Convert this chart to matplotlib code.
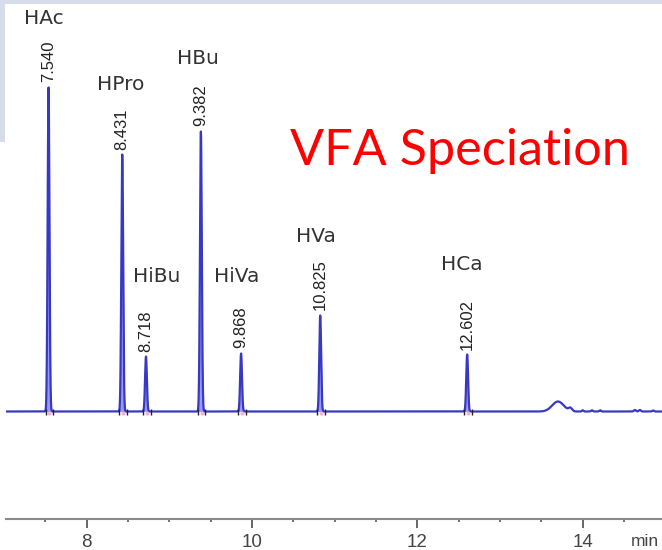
import numpy as np
import matplotlib
matplotlib.use("Agg")
import matplotlib.pyplot as plt
from matplotlib.patches import Rectangle
from matplotlib.ticker import MultipleLocator, FixedLocator
import matplotlib.transforms as mtransforms

# ---------------- data ----------------
compounds = ["HAc", "HPro", "HiBu", "HBu", "HiVa", "HVa", "HCa"]
retention_times = [7.540, 8.431, 8.718, 9.382, 9.868, 10.825, 12.602]
rt_labels = ["7.540", "8.431", "8.718", "9.382", "9.868", "10.825", "12.602"]
peak_heights = [324, 257, 55, 280, 58, 96, 57]          # detector response (a.u.)
name_label_x = [7.485, 8.416, 8.851, 9.347, 9.819, 10.774, 12.54]
name_label_y = [384, 318, 126, 343, 126, 166, 138]

# unidentified late features
extra_times = [13.70, 13.85, 14.00, 14.11, 14.21, 14.63, 14.69, 14.85]
extra_heights = [10.0, 3.0, 1.2, 1.2, 1.2, 1.5, 1.5, 1.0]
extra_widths = [0.07, 0.02, 0.01, 0.01, 0.01, 0.012, 0.012, 0.01]

major_ticks = [8, 10, 12, 14]
tick_labels = ["8", "10", "12", "14"]

# ---------------- build trace ----------------
t = np.linspace(7.03, 14.96, 16000)
main = np.zeros_like(t)
for rt, h in zip(retention_times, peak_heights):
    main += h * np.exp(-0.5 * ((t - rt) / 0.011) ** 2)
signal = main.copy()
for rt, h, w in zip(extra_times, extra_heights, extra_widths):
    signal += h * np.exp(-0.5 * ((t - rt) / w) ** 2)

fig = plt.figure(figsize=(6.62, 5.5), dpi=100)
fig.patch.set_facecolor("white")

# slide-like light frame at top-left
fig.patches.append(Rectangle((0, 1 - 4 / 550), 1, 4 / 550, transform=fig.transFigure,
                             facecolor="#d6dce9", edgecolor="none", zorder=0))
fig.patches.append(Rectangle((0, 1 - 142 / 550), 5 / 662, 142 / 550, transform=fig.transFigure,
                             facecolor="#d6dce9", edgecolor="none", zorder=0))

ax = fig.add_axes([6 / 662, 31 / 550, 656 / 662, 519 / 550])
ax.set_facecolor("none")
ax.set_xlim(7.0254, 14.958)
ax.set_ylim(-107.5, 411.5)

ax.fill_between(t, 0, main, color="#9a9aee", lw=0, zorder=2)
ax.plot(t, signal, color="#3838c4", lw=1.6, zorder=3, solid_joinstyle="round")

# integration marks at peak bases
for rt in retention_times:
    ax.plot([rt - 0.035, rt + 0.055], [0, 0], ls="none", marker="|", ms=5,
            mew=1.0, color="#222222", zorder=4)
    ax.plot([rt + 0.01], [-1], ls="none", marker="o", ms=3, mfc="#f2a0c8",
            mec="none", zorder=4, alpha=0.8)

# retention-time labels (rotated)
for rt, h, lab in zip(retention_times, peak_heights, rt_labels):
    ax.text(rt, h + 5, lab, rotation=90, ha="center", va="bottom",
            fontsize=12, family="Liberation Sans", color="#222222", zorder=5)

# compound names
for x, y, name in zip(name_label_x, name_label_y, compounds):
    ax.text(x, y, name, ha="center", va="bottom", fontsize=14.5,
            family="DejaVu Sans", color="#333333", zorder=5)

# axis styling
for s in ["top", "left", "right"]:
    ax.spines[s].set_visible(False)
ax.spines["bottom"].set_color("#8a8a8a")
ax.spines["bottom"].set_linewidth(1.5)
ax.yaxis.set_visible(False)
ax.xaxis.set_major_locator(FixedLocator(major_ticks))
ax.set_xticklabels(tick_labels)
ax.xaxis.set_minor_locator(MultipleLocator(0.5))
ax.tick_params(axis="x", which="major", direction="out", length=6.5, width=1.4,
               color="#666666", pad=4, labelsize=13.5, labelcolor="#444444")
ax.tick_params(axis="x", which="minor", direction="out", length=2.3, width=1.3,
               color="#666666")
for lbl in ax.get_xticklabels():
    lbl.set_family("Liberation Sans")

trans = mtransforms.blended_transform_factory(ax.transData, ax.transAxes)
ax.text(14.575, -0.043, "min", transform=trans, ha="left", va="center",
        fontsize=12.5, family="Liberation Sans", color="#444444", clip_on=False)

# title, sized to match the reference width
title = fig.text(290 / 662, 1 - 165 / 550, "VFA Speciation", color="#ff0000",
                 fontsize=40, family="Lato", ha="left", va="baseline")
fig.canvas.draw()
w = title.get_window_extent().width
title.set_fontsize(40 * 340 / w)

fig.savefig("out.png", dpi=100, facecolor="white")
